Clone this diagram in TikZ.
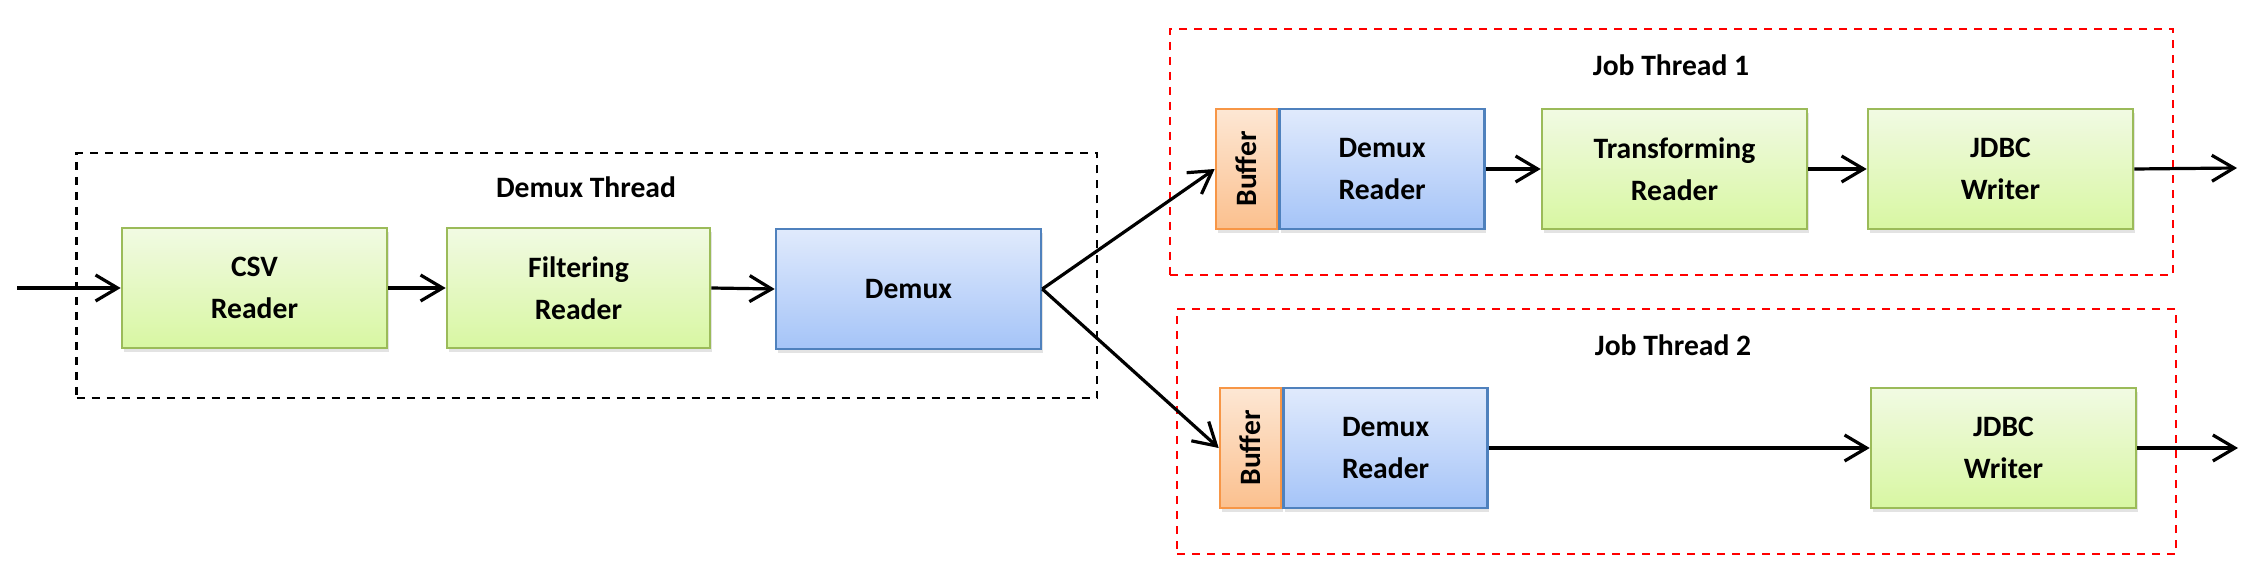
\documentclass[tikz,border=0pt]{standalone}
\usepackage{fontspec}
\setmainfont{Carlito}
\usetikzlibrary{arrows.meta,shadows}
\definecolor{grnB}{HTML}{9BBB59}
\definecolor{grnT}{HTML}{F1FAE3}
\definecolor{grnL}{HTML}{D8F7A2}
\definecolor{bluB}{HTML}{4F81BD}
\definecolor{bluT}{HTML}{E0EAFC}
\definecolor{bluL}{HTML}{A5C4F8}
\definecolor{orgB}{HTML}{F79646}
\definecolor{orgT}{HTML}{FDE7D4}
\definecolor{orgL}{HTML}{FBC08E}
\definecolor{jobred}{HTML}{FF0000}
\tikzset{
  every node/.style={font=\fontsize{14.8}{21}\selectfont\bfseries, align=center},
  procbox/.style={draw, line width=1.3pt, minimum height=60pt, inner sep=0pt,
    drop shadow={opacity=0.22, shadow xshift=0.8pt, shadow yshift=-2pt}},
  greenbox/.style={procbox, draw=grnB, top color=grnT, bottom color=grnL},
  bluebox/.style={procbox, draw=bluB, top color=bluT, bottom color=bluL},
  orangebox/.style={procbox, draw=orgB, top color=orgT, bottom color=orgL, minimum width=30.5pt},
  grpbox/.style={draw, line width=1.35pt, dash pattern=on 4pt off 3.5pt, inner sep=0pt},
  demuxgrp/.style={grpbox, draw=black},
  jobgrp/.style={grpbox, draw=jobred},
  arr/.style={line width=1.6pt, -{Straight Barb[length=11pt, width=13pt, line width=1.6pt]}},
}
\begin{document}
\begin{tikzpicture}[x=0.5pt, y=-0.5pt]
\useasboundingbox (0,0) rectangle (2252,587);
% group boxes
\node[demuxgrp, minimum width=510.25pt, minimum height=122.5pt] (dt) at (586.75,275.5) {};
\node[jobgrp, minimum width=501.5pt, minimum height=123pt] (jt1) at (1671.5,152) {};
\node[jobgrp, minimum width=499.5pt, minimum height=122.5pt] (jt2) at (1676.5,431.5) {};
\node (dtl) at (586,187) {Demux Thread};
\node (jt1l) at (1671,65) {Job Thread 1};
\node (jt2l) at (1673,345) {Job Thread 2};
% demux thread
\node[greenbox, minimum width=132.5pt] (csv) at (254.5,288) {CSV\\Reader};
\node[greenbox, minimum width=131.5pt] (filt) at (578.5,288) {Filtering\\Reader};
\node[bluebox, minimum width=132.5pt] (demux) at (908.5,289) {Demux};
% job thread 1
\node[orangebox] (buf1) at (1246.5,169) {\rotatebox{90}{Buffer}};
\node[bluebox, minimum width=102.5pt, anchor=west] (dr1) at (buf1.east) {Demux\\Reader};
\node[greenbox, minimum width=132.5pt] (tr) at (1674.5,169) {Transforming\\Reader};
\node[greenbox, minimum width=132.5pt] (jdbc1) at (2000.5,169) {JDBC\\Writer};
% job thread 2
\node[orangebox] (buf2) at (1250.5,448) {\rotatebox{90}{Buffer}};
\node[bluebox, minimum width=102pt, anchor=west] (dr2) at (buf2.east) {Demux\\Reader};
\node[greenbox, minimum width=132.5pt] (jdbc2) at (2003.5,448) {JDBC\\Writer};
% connectors
\coordinate (in) at (17,288);
\coordinate (out1) at (2237,168);
\coordinate (out2) at (2238,448);
\draw[arr] (in) -- (csv.west);
\draw[arr] (csv.east) -- (filt.west);
\draw[arr] (filt.east) -- (demux.west);
\draw[arr] (demux.east) -- (buf1.west);
\draw[arr] (demux.east) -- (buf2.west);
\draw[arr] (dr1.east) -- (tr.west);
\draw[arr] (tr.east) -- (jdbc1.west);
\draw[arr] (jdbc1.east) -- (out1);
\draw[arr] (dr2.east) -- (jdbc2.west);
\draw[arr] (jdbc2.east) -- (out2);
\end{tikzpicture}
\end{document}
